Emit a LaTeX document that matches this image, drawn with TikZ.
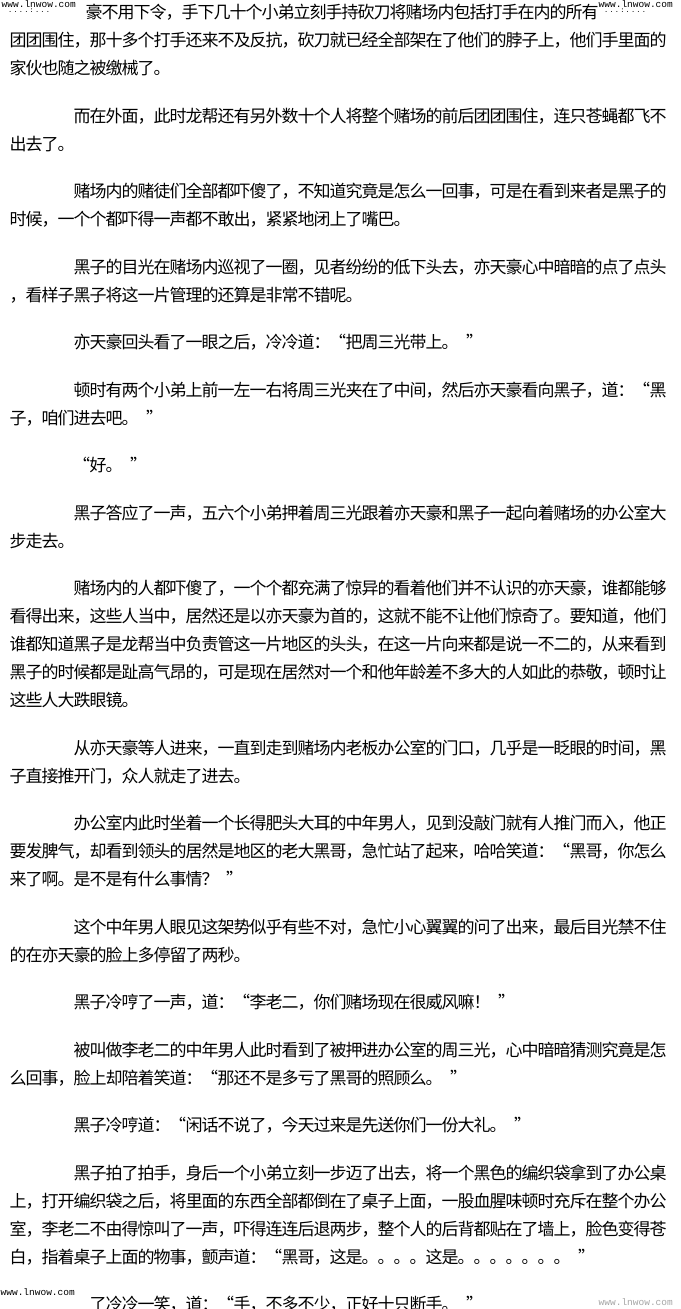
\documentclass[tikz,border=0pt]{standalone}
\usepackage{fontspec}
\newfontfamily\cjk{Noto Sans CJK SC}
\newfontfamily\wmfont{Liberation Mono}
\def\hs{HS}
\def\glloop#1{\ifx#1\relax\else\gldo{#1}\expandafter\glloop\fi}
\def\gldo#1{\ifx#1\hs\hspace*{8pt}\else\ifx#1“\makebox[16pt][r]{#1}\else\ifx#1”\makebox[16pt][l]{#1}\else\makebox[16pt]{#1}\fi\fi\fi}
\newcommand\gridline[1]{\glloop#1\relax}
\tikzset{
  txt/.style={inner sep=0pt, font=\cjk\fontsize{17}{17}\selectfont, anchor=base west},
  wm/.style={inner sep=0.5pt, font=\wmfont\fontsize{9.5}{9.5}\selectfont, fill=white, anchor=north west},
  wmdots/.style={inner sep=0pt, font=\wmfont\fontsize{7}{7}\selectfont, anchor=north west},
}
\newcommand\tline[4]{\node[txt] (#1) at (#2,{#3+6.5}) {\gridline{#4}};}
\begin{document}
\begin{tikzpicture}[x=1pt,y=-1pt]
\clip (0,0) rectangle (680,1309);
\fill[white] (0,0) rectangle (680,1309);
% paragraph 1
\tline{l1}{86}{12}{豪不用下令，手下几十个小弟立刻手持砍刀将赌场内包括打手在内的所有}
\tline{l2}{10}{40}{团团围住，那十多个打手还来不及反抗，砍刀就已经全部架在了他们的脖子上，他们手里面的}
\tline{l3}{10}{68}{家伙也随之被缴械了。}
% paragraph 2
\tline{l4}{74}{115.5}{而在外面，此时龙帮还有另外数十个人将整个赌场的前后团团围住，连只苍蝇都飞不}
\tline{l5}{10}{143.5}{出去了。}
% paragraph 3
\tline{l6}{74}{191}{赌场内的赌徒们全部都吓傻了，不知道究竟是怎么一回事，可是在看到来者是黑子的}
\tline{l7}{10}{219}{时候，一个个都吓得一声都不敢出，紧紧地闭上了嘴巴。}
% paragraph 4
\tline{l8}{74}{266.5}{黑子的目光在赌场内巡视了一圈，见者纷纷的低下头去，亦天豪心中暗暗的点了点头}
\tline{l9}{10}{294.5}{，看样子黑子将这一片管理的还算是非常不错呢。}
% paragraph 5
\tline{l10}{74}{342}{亦天豪回头看了一眼之后，冷冷道：“把周三光带上。\hs”}
% paragraph 6
\tline{l11}{74}{389.5}{顿时有两个小弟上前一左一右将周三光夹在了中间，然后亦天豪看向黑子，道：“黑}
\tline{l12}{10}{417.5}{子，咱们进去吧。\hs”}
% paragraph 7
\tline{l13}{74}{465}{“好。\hs”}
% paragraph 8
\tline{l14}{74}{512.5}{黑子答应了一声，五六个小弟押着周三光跟着亦天豪和黑子一起向着赌场的办公室大}
\tline{l15}{10}{540.5}{步走去。}
% paragraph 9
\tline{l16}{74}{588}{赌场内的人都吓傻了，一个个都充满了惊异的看着他们并不认识的亦天豪，谁都能够}
\tline{l17}{10}{616}{看得出来，这些人当中，居然还是以亦天豪为首的，这就不能不让他们惊奇了。要知道，他们}
\tline{l18}{10}{644}{谁都知道黑子是龙帮当中负责管这一片地区的头头，在这一片向来都是说一不二的，从来看到}
\tline{l19}{10}{672}{黑子的时候都是趾高气昂的，可是现在居然对一个和他年龄差不多大的人如此的恭敬，顿时让}
\tline{l20}{10}{700}{这些人大跌眼镜。}
% paragraph 10
\tline{l21}{74}{747.5}{从亦天豪等人进来，一直到走到赌场内老板办公室的门口，几乎是一眨眼的时间，黑}
\tline{l22}{10}{775.5}{子直接推开门，众人就走了进去。}
% paragraph 11
\tline{l23}{74}{823}{办公室内此时坐着一个长得肥头大耳的中年男人，见到没敲门就有人推门而入，他正}
\tline{l24}{10}{851}{要发脾气，却看到领头的居然是地区的老大黑哥，急忙站了起来，哈哈笑道：“黑哥，你怎么}
\tline{l25}{10}{879}{来了啊。是不是有什么事情？\hs”}
% paragraph 12
\tline{l26}{74}{926.5}{这个中年男人眼见这架势似乎有些不对，急忙小心翼翼的问了出来，最后目光禁不住}
\tline{l27}{10}{954.5}{的在亦天豪的脸上多停留了两秒。}
% paragraph 13
\tline{l28}{74}{1002}{黑子冷哼了一声，道：“李老二，你们赌场现在很威风嘛！\hs”}
% paragraph 14
\tline{l29}{74}{1049.5}{被叫做李老二的中年男人此时看到了被押进办公室的周三光，心中暗暗猜测究竟是怎}
\tline{l30}{10}{1077.5}{么回事，脸上却陪着笑道：“那还不是多亏了黑哥的照顾么。\hs”}
% paragraph 15
\tline{l31}{74}{1125}{黑子冷哼道：“闲话不说了，今天过来是先送你们一份大礼。\hs”}
% paragraph 16
\tline{l32}{74}{1172.5}{黑子拍了拍手，身后一个小弟立刻一步迈了出去，将一个黑色的编织袋拿到了办公桌}
\tline{l33}{10}{1200.5}{上，打开编织袋之后，将里面的东西全部都倒在了桌子上面，一股血腥味顿时充斥在整个办公}
\tline{l34}{10}{1228.5}{室，李老二不由得惊叫了一声，吓得连连后退两步，整个人的后背都贴在了墙上，脸色变得苍}
\tline{l35}{10}{1256.5}{白，指着桌子上面的物事，颤声道：“黑哥，这是。。。。这是。。。。。。。\hs”}
% paragraph 17 (cut by the page edge)
\tline{l36}{90}{1304}{了冷冷一笑，道：“手，不多不少，正好十只断手。\hs”}
% watermarks
\node[wm] (wmtl) at (1,0) {www.lnwow.com};
\node[wmdots] (dtl) at (8,9) {.\,.\,.\,.\,:\,.\,.\,.};
\node[wm] (wmtr) at (598,0) {www.lnwow.com};
\node[wmdots] (dtr) at (604,9) {.\,.\,.\,:\,.\,.\,.\,.};
\node[wm] (wmbl) at (0,1288) {www.lnwow.com};
\node[wm, text=black!35] (wmbr) at (598,1298) {www.lnwow.com};
\end{tikzpicture}
\end{document}
